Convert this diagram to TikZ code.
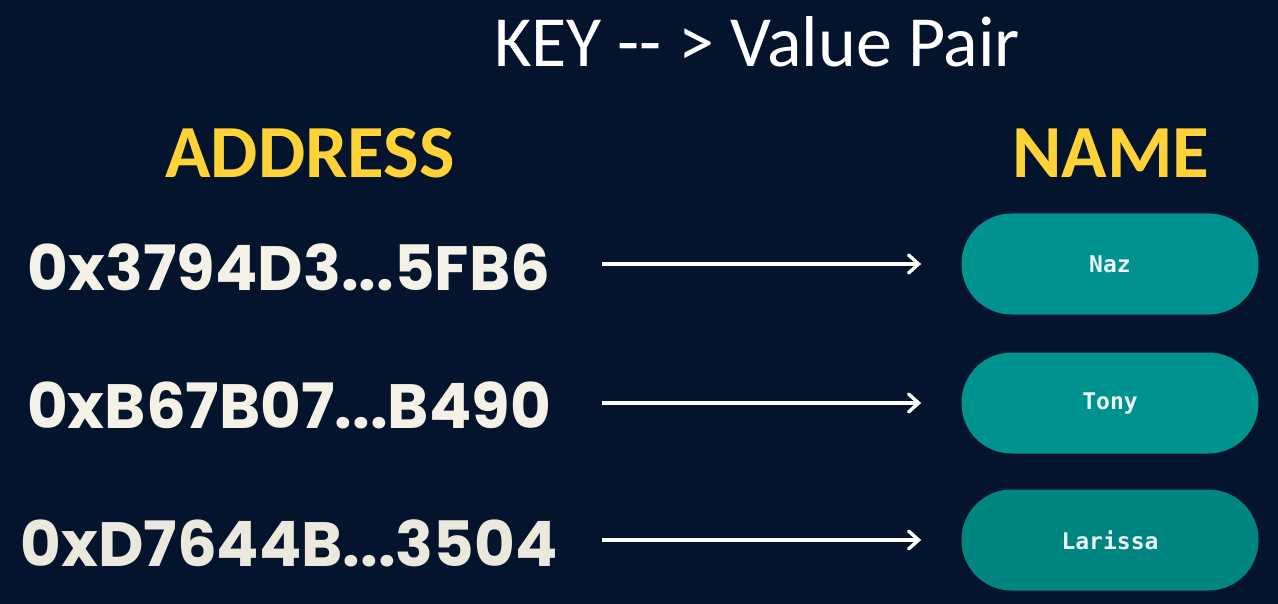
\documentclass[tikz,border=0pt]{standalone}
\usepackage{fontspec}
\setmainfont{Carlito}
\newfontfamily\addrfont{Poppins}
\newfontfamily\namefont{DejaVu Sans Mono}
\usetikzlibrary{positioning}
\usetikzlibrary{arrows.meta}
\definecolor{bgnavy}{HTML}{04142D}
\definecolor{headyellow}{HTML}{FFD338}
\definecolor{addrwhite}{HTML}{F4F2E6}
\definecolor{pilltealA}{HTML}{00928F}
\definecolor{pilltealB}{HTML}{008580}

\begin{document}
\begin{tikzpicture}[x=0.5pt, y=-0.5pt,
    head/.style={anchor=base, text=headyellow, font=\fontsize{37.5}{40}\selectfont\bfseries},
    addr/.style={anchor=base, text=addrwhite, font=\addrfont\fontsize{31.3}{36}\selectfont\bfseries},
    pill/.style={fill=pilltealA, rounded corners=25pt, minimum width=148.5pt, minimum height=50.5pt,
        text=white!92!teal, font=\namefont\fontsize{11.5}{13}\selectfont\bfseries},
    link/.style={-{Straight Barb[length=5pt, width=9pt, line cap=round]}, white, line width=1.7pt, shorten >=20pt}]
    \fill[bgnavy] (0,0) rectangle (1278,604);
    \node[anchor=base, text=white, font=\fontsize{36}{40}\selectfont] (title) at (757,67) {KEY {-}{-} > Value Pair};
    \node[head] (addrhead) at (310,177) {ADDRESS};
    \node[head] (namehead) at (1111,177) {NAME};
    % key column
    \node[addr] (addr1) at (289,290) {0x3794D3...5FB6};
    \node[addr] (addr2) at (289,428) {0xB67B07...B490};
    \node[addr, text=addrwhite!92!gray] (addr3) at (289,566) {0xD7644B...3504};
    % value column
    \node[pill] (name1) at (1110,264) {Naz};
    \node[pill] (name2) at (1110,403) {Tony};
    \node[pill, fill=pilltealB] (name3) at (1110,540) {Larissa};
    \draw[link] ([xshift=-179.5pt]name1.west) -- (name1.west);
    \draw[link] ([xshift=-179.5pt]name2.west) -- (name2.west);
    \draw[link] ([xshift=-179.5pt]name3.west) -- (name3.west);
\end{tikzpicture}
\end{document}
